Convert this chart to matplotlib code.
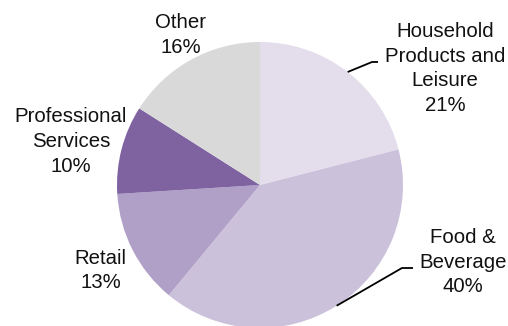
import numpy as np
import matplotlib
matplotlib.use("Agg")
import matplotlib.pyplot as plt

plt.rcParams['font.family'] = ['Liberation Sans', 'DejaVu Sans']

# Sector breakdown (clockwise from 12 o'clock)
sectors = ["Household\nProducts and\nLeisure", "Food &\nBeverage", "Retail",
           "Professional\nServices", "Other"]
shares = [21, 40, 13, 10, 16]
colors = ["#E4DEEC", "#CBC1DB", "#B09FC7", "#7F63A1", "#D9D9D9"]

W, H = 508, 326
fig = plt.figure(figsize=(W / 100, H / 100), dpi=100)
ax = fig.add_axes([0, 0, 1, 1])

cx, cy, R = 260, H - 185, 143
wedges, _ = ax.pie(shares, colors=colors, startangle=90, counterclock=False,
                   center=(cx, cy), radius=R, frame=True,
                   wedgeprops=dict(linewidth=0))
ax.set_xlim(0, W)
ax.set_ylim(0, H)
ax.set_aspect("equal")
ax.axis("off")

# label anchors (pixel layout, y measured from top) and optional leader elbows
label_pos = [(445, 68.5), (463, 262), (100.5, 270.5), (71, 141.5), (181, 35)]
elbows = [((372, 62), (378, 62)), ((402, 268), (413, 268)), None, None, None]

fs = 14.7
for w, text, pct, (lx, ly), elb in zip(wedges, sectors, shares, label_pos, elbows):
    ax.text(lx, H - ly, f"{text}\n{pct}%", ha="center", va="center",
            fontsize=fs, linespacing=1.38, color="#111111")
    if elb is not None:
        mid = np.deg2rad((w.theta1 + w.theta2) / 2)
        ex, ey = cx + R * np.cos(mid), cy + R * np.sin(mid)
        xs = [ex, elb[0][0], elb[1][0]]
        ys = [ey, H - elb[0][1], H - elb[1][1]]
        ax.plot(xs, ys, color="black", lw=1.3, solid_capstyle="butt")

fig.savefig("out.png", dpi=100)
